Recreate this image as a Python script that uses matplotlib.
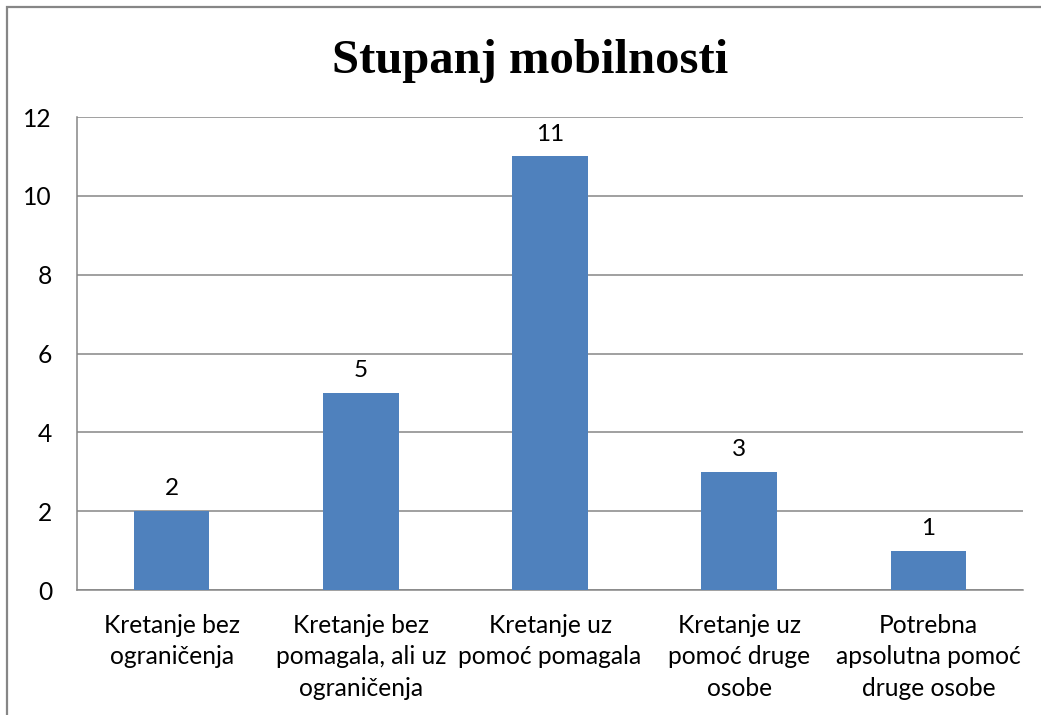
import matplotlib.pyplot as plt
from matplotlib.patches import Rectangle

categories = [
    "Kretanje bez\nograničenja",
    "Kretanje bez\npomagala, ali uz\nograničenja",
    "Kretanje uz\npomoć pomagala",
    "Kretanje uz\npomoć druge\nosobe",
    "Potrebna\napsolutna pomoć\ndruge osobe",
]
values = [2, 5, 11, 3, 1]
yticks = [0, 2, 4, 6, 8, 10, 12]

plt.rcParams["font.family"] = ["Lato", "DejaVu Sans"]
grey = "#868686"

fig = plt.figure(figsize=(10.41, 7.15), dpi=100)
ax = fig.add_axes([0.074, 0.1748, 0.9088, 0.6615])

x = range(len(categories))
bars = ax.bar(x, values, width=0.4, color="#4F81BD", zorder=3)
for b, v in zip(bars, values):
    ax.text(b.get_x() + b.get_width() / 2, v + 0.3, str(v),
            ha="center", va="bottom", fontsize=17.5, color="black")

ax.set_xlim(-0.5, len(categories) - 0.5)
ax.set_ylim(0, 12)
ax.set_yticks(yticks)
ax.set_xticks(list(x))
ax.set_xticklabels(categories, fontsize=17.7, linespacing=1.45)
ax.tick_params(axis="y", labelsize=17.7, length=0, pad=18)
ax.tick_params(axis="x", length=0, pad=17)
ax.grid(axis="y", color=grey, linewidth=1.1, zorder=0)
for side in ["top", "right"]:
    ax.spines[side].set_visible(False)
for side in ["left", "bottom"]:
    ax.spines[side].set_color(grey)
    ax.spines[side].set_linewidth(1.1)

fig.text(0.509, 0.914, "Stupanj mobilnosti", ha="center", va="center",
         fontsize=35, fontweight="bold", family="Liberation Serif")

# outer chart frame (cut off at the right and bottom)
fig.patches.append(Rectangle((7 / 1041, -0.05), 1.1, 1.05 - 7 / 715,
                             transform=fig.transFigure, fill=False,
                             edgecolor=grey, linewidth=1.6))

fig.savefig("out.png", dpi=100)
